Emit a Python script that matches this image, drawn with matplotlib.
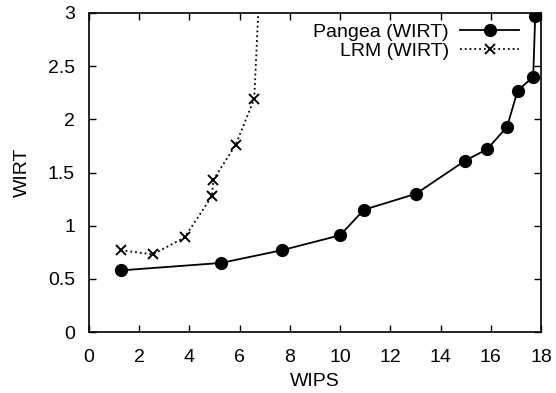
import matplotlib
matplotlib.use('Agg')
from matplotlib import pyplot as plt

# Pangea (WIRT)
pangea_wips = [1.27, 5.26, 7.69, 10.0, 10.95, 13.02, 14.97, 15.86, 16.65, 17.07, 17.69, 17.77]
pangea_wirt = [0.58, 0.65, 0.77, 0.91, 1.15, 1.30, 1.61, 1.72, 1.93, 2.27, 2.40, 2.97]

# LRM (WIRT)
lrm_wips = [1.27, 2.54, 3.81, 4.90, 4.95, 5.84, 6.58, 6.94]
lrm_wirt = [0.77, 0.73, 0.89, 1.28, 1.43, 1.76, 2.19, 4.0]

xticks = [0, 2, 4, 6, 8, 10, 12, 14, 16, 18]
yticks = [0, 0.5, 1, 1.5, 2, 2.5, 3]
ytick_labels = ['0', '0.5', '1', '1.5', '2', '2.5', '3']

plt.rcParams['font.family'] = ['Liberation Sans', 'DejaVu Sans']
plt.rcParams['font.size'] = 14

fig = plt.figure(figsize=(5.56, 3.93), dpi=100)
ax = fig.add_axes([0.160, 0.155, 0.813, 0.812])

ax.plot(pangea_wips, pangea_wirt, color='black', linestyle='-', linewidth=1.3,
        marker='o', markersize=8.5, label='Pangea (WIRT)')
ax.plot(lrm_wips, lrm_wirt, color='black', linestyle=':', linewidth=1.3,
        marker='x', markersize=7, markeredgewidth=1.4, label='LRM (WIRT)')

ax.set_xlim(0, 18)
ax.set_ylim(0, 3)
ax.set_xticks(xticks)
ax.set_xticklabels([str(t) for t in xticks])
ax.set_yticks(yticks)
ax.set_yticklabels(ytick_labels)
ax.tick_params(direction='in', top=True, right=True, length=5, width=1)
ax.tick_params(axis='x', pad=12)
ax.tick_params(axis='y', pad=10)
for s in ax.spines.values():
    s.set_linewidth(1.2)

ax.set_xlabel('WIPS', labelpad=5)
ax.set_ylabel('WIRT', labelpad=12)

ax.legend(loc='upper right', bbox_to_anchor=(0.955, 0.975), frameon=False,
          markerfirst=False, handlelength=3, labelspacing=0.1, handletextpad=0.6,
          fontsize=14, borderpad=0.1, borderaxespad=0)

plt.savefig('out.png', dpi=100)
